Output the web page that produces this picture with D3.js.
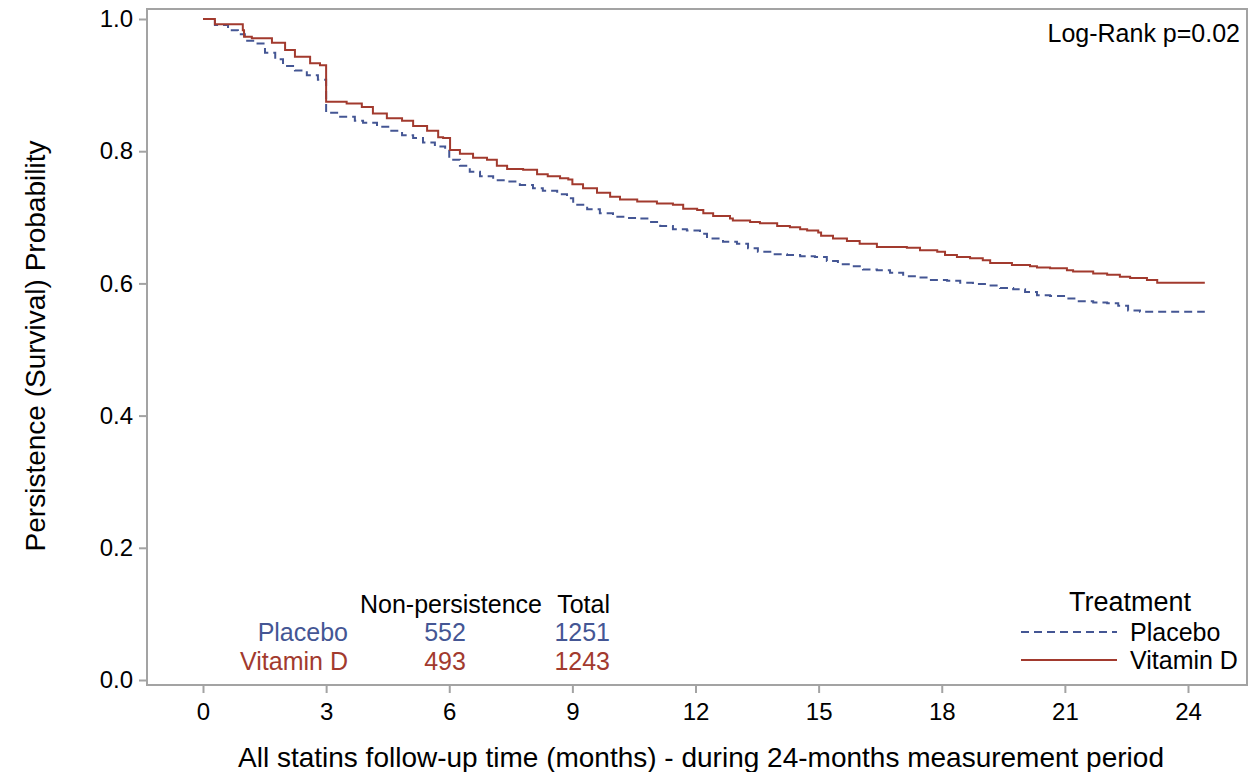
<!DOCTYPE html>
<html>
<head>
<meta charset="utf-8">
<script src="https://cdn.jsdelivr.net/npm/d3@7/dist/d3.min.js"></script>
<style>
  html, body { margin: 0; padding: 0; background: #fff; }
  svg { display: block; font-family: "Liberation Sans", Arial, sans-serif; }
</style>
</head>
<body>
<svg id="chart" width="1248" height="772"></svg>
<script>
// Kaplan-Meier steps: [month, survival]
var placeboSteps = [
  [0, 1.0], [0.29, 0.991], [0.61, 0.983], [0.85, 0.977], [1.02, 0.967], [1.27, 0.963],
  [1.51, 0.949], [1.76, 0.939], [1.95, 0.929], [2.24, 0.922], [2.53, 0.915], [2.8, 0.908],
  [3.0, 0.858], [3.3, 0.852], [3.7, 0.846], [3.9, 0.843], [4.24, 0.837], [4.56, 0.831],
  [4.85, 0.824], [5.12, 0.820], [5.36, 0.813], [5.65, 0.807], [5.9, 0.803], [6.0, 0.787],
  [6.26, 0.778], [6.5, 0.769], [6.75, 0.762], [7.07, 0.756], [7.41, 0.754], [7.72, 0.749],
  [8.04, 0.744], [8.28, 0.740], [8.63, 0.735], [8.87, 0.729], [9.02, 0.719], [9.36, 0.712],
  [9.67, 0.706], [9.99, 0.701], [10.33, 0.699], [10.58, 0.698], [10.89, 0.693], [11.14, 0.687],
  [11.45, 0.682], [11.79, 0.680], [12.11, 0.675], [12.28, 0.668], [12.67, 0.663], [13.01, 0.660],
  [13.28, 0.653], [13.52, 0.648], [13.89, 0.644], [14.23, 0.643], [14.55, 0.641], [14.91, 0.640],
  [15.2, 0.634], [15.47, 0.629], [15.81, 0.626], [16.08, 0.621], [16.42, 0.620], [16.74, 0.616],
  [17.06, 0.611], [17.4, 0.609], [17.71, 0.605], [18.13, 0.604], [18.45, 0.601], [18.76, 0.599],
  [19.1, 0.597], [19.42, 0.593], [19.74, 0.591], [20.03, 0.587], [20.32, 0.582], [20.64, 0.581],
  [21.05, 0.577], [21.3, 0.573], [21.69, 0.571], [22.03, 0.570], [22.3, 0.566], [22.54, 0.559],
  [22.83, 0.557], [24.41, 0.557]
];

var vitaminDSteps = [
  [0, 1.0], [0.29, 0.992], [0.97, 0.983], [1.0, 0.973], [1.19, 0.971], [1.68, 0.964],
  [2.0, 0.953], [2.24, 0.943], [2.61, 0.933], [2.85, 0.930], [3.0, 0.875], [3.5, 0.872],
  [3.87, 0.867], [4.14, 0.857], [4.48, 0.850], [4.85, 0.846], [5.12, 0.838], [5.46, 0.831],
  [5.73, 0.821], [5.85, 0.820], [6.02, 0.802], [6.26, 0.796], [6.58, 0.790], [6.92, 0.787],
  [7.16, 0.778], [7.41, 0.773], [7.8, 0.772], [8.14, 0.765], [8.4, 0.762], [8.7, 0.759],
  [8.9, 0.757], [9.0, 0.750], [9.26, 0.744], [9.6, 0.737], [9.92, 0.731], [10.16, 0.727],
  [10.58, 0.724], [11.06, 0.721], [11.45, 0.719], [11.7, 0.713], [12.04, 0.711], [12.19, 0.706],
  [12.43, 0.702], [12.84, 0.698], [12.91, 0.695], [13.33, 0.693], [13.57, 0.691], [13.99, 0.687],
  [14.3, 0.685], [14.55, 0.682], [14.72, 0.680], [14.99, 0.677], [15.06, 0.672], [15.35, 0.668],
  [15.69, 0.664], [16.0, 0.660], [16.42, 0.655], [17.15, 0.654], [17.47, 0.650], [17.89, 0.648],
  [18.08, 0.643], [18.37, 0.640], [18.69, 0.638], [19.0, 0.635], [19.18, 0.631], [19.71, 0.628],
  [20.15, 0.626], [20.32, 0.624], [20.64, 0.623], [21.05, 0.620], [21.2, 0.618], [21.69, 0.615],
  [22.03, 0.613], [22.34, 0.610], [22.59, 0.608], [23.0, 0.605], [23.25, 0.601], [24.41, 0.601]
];

var xTicks = [0, 3, 6, 9, 12, 15, 18, 21, 24];
var yTicks = [0.0, 0.2, 0.4, 0.6, 0.8, 1.0];

var groupNames = ['Placebo', 'Vitamin D'];
var nonPersistence = [552, 493];
var totals = [1251, 1243];

var BLUE = '#445694';
var RED = '#A23A2E';
var AXIS = '#a3a3a3';
var FONT = '"Liberation Sans", Arial, sans-serif';

var svg = d3.select('#chart');

var x = d3.scaleLinear().domain([0, 24]).range([203, 1188]);
var y = d3.scaleLinear().domain([0, 1]).range([680, 19]);

// Frame
var frame = { left: 147, top: 9, right: 1247, bottom: 685 };
svg.append('rect')
  .attr('x', frame.left).attr('y', frame.top)
  .attr('width', frame.right - frame.left).attr('height', frame.bottom - frame.top)
  .attr('fill', 'none').attr('stroke', AXIS).attr('stroke-width', 2);

// Y axis
var yAxis = d3.axisLeft(y).tickValues(yTicks).tickFormat(d3.format('.1f')).tickSize(8).tickPadding(6);
var yG = svg.append('g').attr('transform', 'translate(' + frame.left + ',0)').call(yAxis);
yG.select('.domain').remove();
yG.selectAll('line').attr('stroke', AXIS).attr('stroke-width', 2);
yG.selectAll('text').attr('font-family', FONT).attr('font-size', 24).attr('fill', '#000');

// X axis
var xAxis = d3.axisBottom(x).tickValues(xTicks).tickSize(8).tickPadding(10);
var xG = svg.append('g').attr('transform', 'translate(0,' + frame.bottom + ')').call(xAxis);
xG.select('.domain').remove();
xG.selectAll('line').attr('stroke', AXIS).attr('stroke-width', 2);
xG.selectAll('text').attr('font-family', FONT).attr('font-size', 24).attr('fill', '#000');

// Axis titles
svg.append('text')
  .attr('x', 701).attr('y', 767)
  .attr('text-anchor', 'middle')
  .attr('font-size', 28)
  .text('All statins follow-up time (months) - during 24-months measurement period');

svg.append('text')
  .attr('transform', 'translate(45,346) rotate(-90)')
  .attr('text-anchor', 'middle')
  .attr('font-size', 28)
  .text('Persistence (Survival) Probability');

// Survival curves
var line = d3.line()
  .x(function (d) { return x(d[0]); })
  .y(function (d) { return y(d[1]); })
  .curve(d3.curveStepAfter);

svg.append('path')
  .datum(placeboSteps)
  .attr('d', line)
  .attr('fill', 'none')
  .attr('stroke', BLUE)
  .attr('stroke-width', 2)
  .attr('stroke-dasharray', '8,5');

svg.append('path')
  .datum(vitaminDSteps)
  .attr('d', line)
  .attr('fill', 'none')
  .attr('stroke', RED)
  .attr('stroke-width', 2);

// Log-rank annotation
svg.append('text')
  .attr('x', 1240).attr('y', 42)
  .attr('text-anchor', 'end')
  .attr('font-size', 25)
  .text('Log-Rank p=0.02');

// Inset table
var colors = [BLUE, RED];
svg.append('text').attr('x', 451).attr('y', 613).attr('text-anchor', 'middle')
  .attr('font-size', 25).text('Non-persistence');
svg.append('text').attr('x', 610).attr('y', 613).attr('text-anchor', 'end')
  .attr('font-size', 25).text('Total');

groupNames.forEach(function (name, i) {
  var by = 641 + i * 29;
  svg.append('text').attr('x', 348).attr('y', by).attr('text-anchor', 'end')
    .attr('font-size', 25).attr('fill', colors[i]).text(name);
  svg.append('text').attr('x', 445).attr('y', by).attr('text-anchor', 'middle')
    .attr('font-size', 25).attr('fill', colors[i]).text(nonPersistence[i]);
  svg.append('text').attr('x', 610).attr('y', by).attr('text-anchor', 'end')
    .attr('font-size', 25).attr('fill', colors[i]).text(totals[i]);
});

// Legend
svg.append('text').attr('x', 1130).attr('y', 611).attr('text-anchor', 'middle')
  .attr('font-size', 27).text('Treatment');

groupNames.forEach(function (name, i) {
  var ly = 632 + i * 28;
  svg.append('line')
    .attr('x1', 1021).attr('x2', 1117).attr('y1', ly).attr('y2', ly)
    .attr('stroke', colors[i]).attr('stroke-width', 2)
    .attr('stroke-dasharray', i === 0 ? '8,5' : null);
  svg.append('text').attr('x', 1130).attr('y', ly + 9)
    .attr('font-size', 25).text(name);
});
</script>
</body>
</html>
